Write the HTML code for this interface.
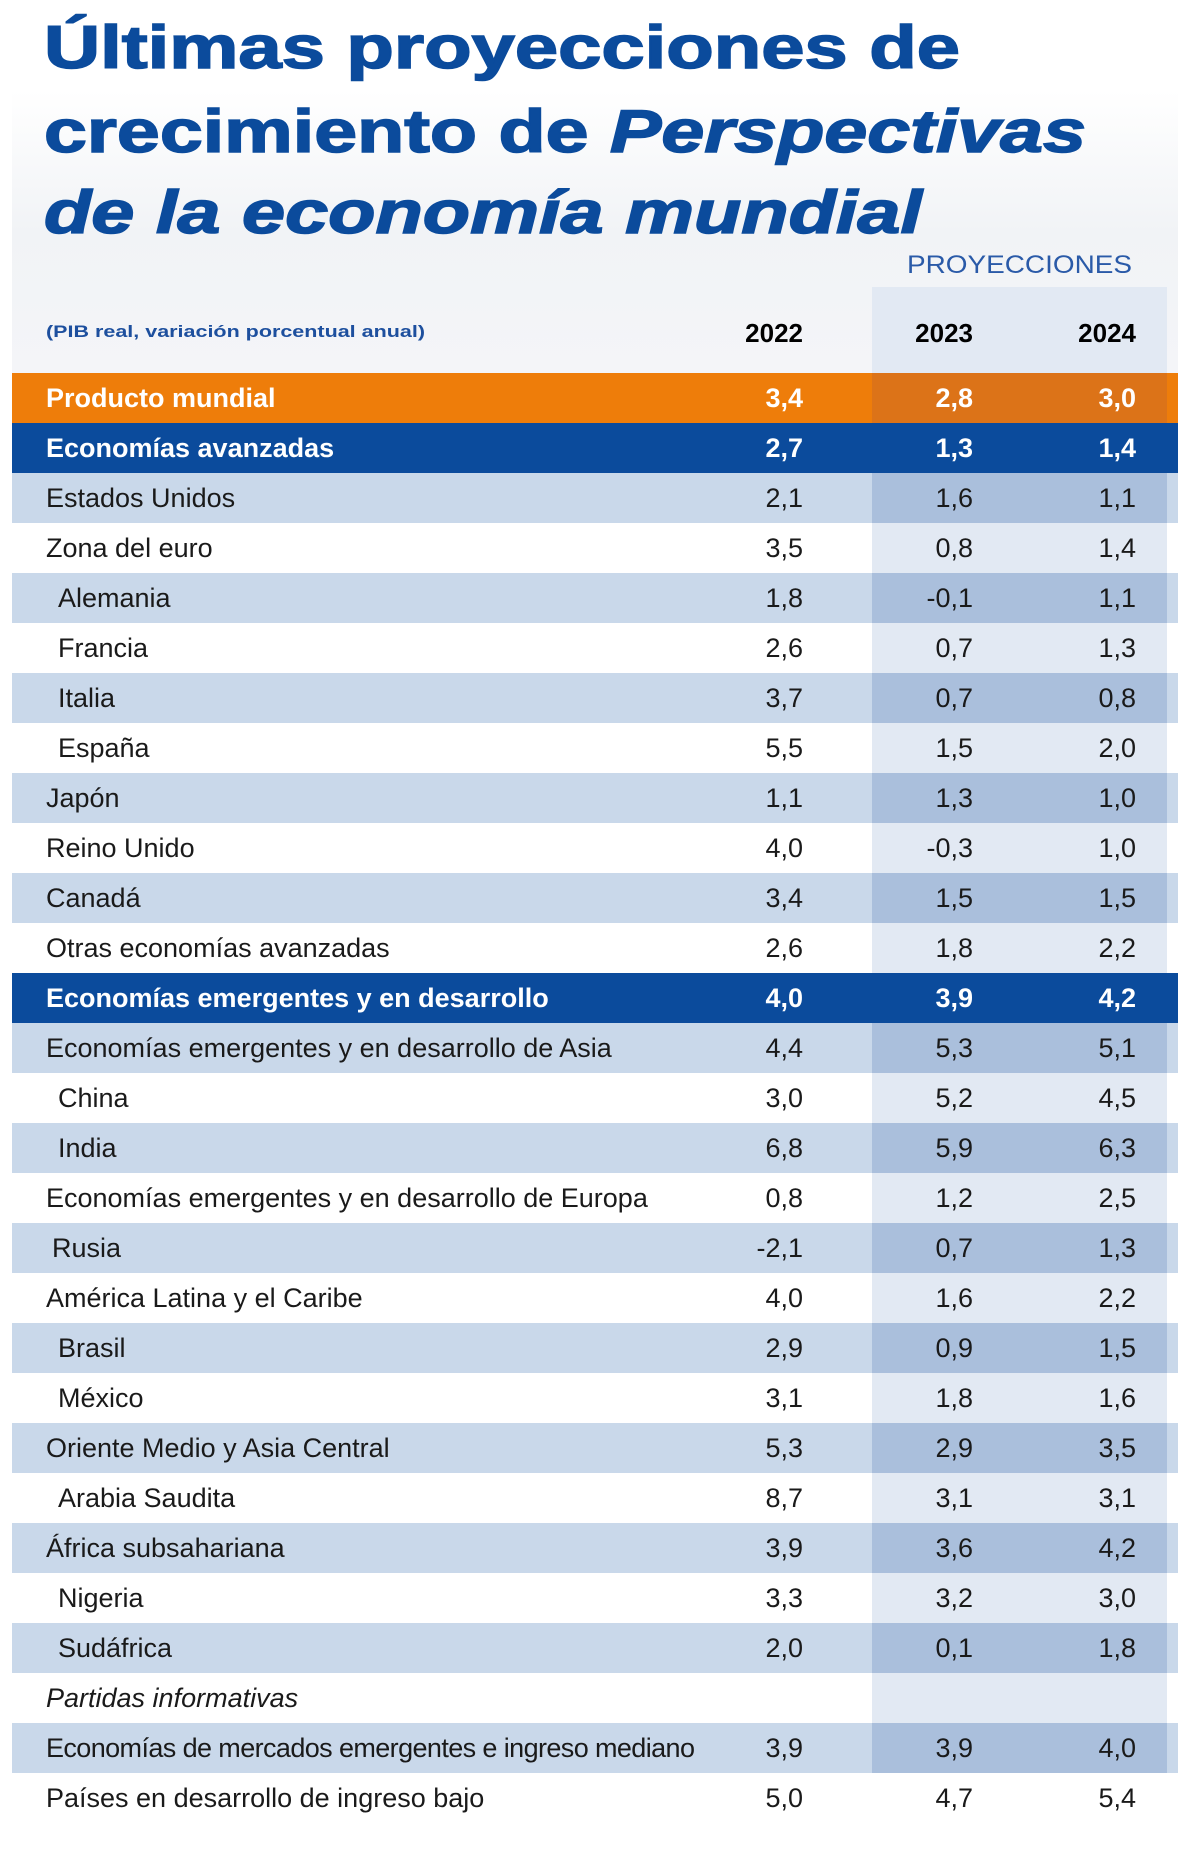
<!DOCTYPE html>
<html><head><meta charset="utf-8"><style>
body{margin:0;width:1200px;height:1854px;background:#fff;position:relative;overflow:hidden;font-family:"Liberation Sans",sans-serif}
.bg{position:absolute;left:12px;top:90px;width:1166px;height:283px;background:linear-gradient(180deg,#fff 0%,#f1f3f6 50%,#f4f5f8 100%)}
.band{position:absolute;left:872px;width:295px;top:287px;height:1486px;background:#e2e9f3}
.row{position:absolute;left:12px;width:1166px;height:50px;color:#1a1a1a;font-size:27px;line-height:50px}
.row .l{position:absolute;left:34px;white-space:nowrap}
.row .n{position:absolute;text-align:right;width:100px}
.n1{left:691px}.n2{left:861px}.n3{left:1024px}
.s{background:#c9d8ea}
.s .c{position:absolute;left:860px;width:295px;height:50px;background:#aabfdc}
.o{background:#ee7d0a;color:#fff;font-weight:bold}
.o .c{position:absolute;left:860px;width:295px;height:50px;background:#dc7318}
.b{background:#0b4b9c;color:#fff;font-weight:bold}
.ind .l{left:46px}
</style></head><body>
<div class="bg"></div>
<div class="band"></div>
<svg width="1200" height="370" style="position:absolute;left:0;top:0">
<g fill="#0b4b9c" stroke="#0b4b9c" stroke-width="1.5" font-family="Liberation Sans,sans-serif" font-weight="bold" font-size="60">
<text x="44" y="68" textLength="916" lengthAdjust="spacingAndGlyphs">Últimas proyecciones de</text>
<text x="44" y="152" textLength="1042" lengthAdjust="spacingAndGlyphs">crecimiento de <tspan font-style="italic">Perspectivas</tspan></text>
<text x="44" y="233" textLength="878" lengthAdjust="spacingAndGlyphs" font-style="italic">de la economía mundial</text>
</g>
<text x="907" y="273" fill="#2a5aa8" font-family="Liberation Sans,sans-serif" font-size="25" textLength="225" lengthAdjust="spacingAndGlyphs">PROYECCIONES</text>
<text x="46" y="337" fill="#1d4f9e" font-family="Liberation Sans,sans-serif" font-weight="bold" font-size="17" textLength="379" lengthAdjust="spacingAndGlyphs">(PIB real, variación porcentual anual)</text>
<g font-family="Liberation Sans,sans-serif" font-weight="bold" font-size="26" fill="#000" text-anchor="end">
<text x="803" y="342">2022</text><text x="973" y="342">2023</text><text x="1136" y="342">2024</text>
</g>
</svg>
<div class="row o" style="top:373px"><div class="c"></div><span class="l">Producto mundial</span><span class="n n1">3,4</span><span class="n n2">2,8</span><span class="n n3">3,0</span></div>
<div class="row b" style="top:423px"><span class="l">Economías avanzadas</span><span class="n n1">2,7</span><span class="n n2">1,3</span><span class="n n3">1,4</span></div>
<div class="row s" style="top:473px"><div class="c"></div><span class="l">Estados Unidos</span><span class="n n1">2,1</span><span class="n n2">1,6</span><span class="n n3">1,1</span></div>
<div class="row w" style="top:523px"><span class="l">Zona del euro</span><span class="n n1">3,5</span><span class="n n2">0,8</span><span class="n n3">1,4</span></div>
<div class="row s ind" style="top:573px"><div class="c"></div><span class="l">Alemania</span><span class="n n1">1,8</span><span class="n n2">-0,1</span><span class="n n3">1,1</span></div>
<div class="row w ind" style="top:623px"><span class="l">Francia</span><span class="n n1">2,6</span><span class="n n2">0,7</span><span class="n n3">1,3</span></div>
<div class="row s ind" style="top:673px"><div class="c"></div><span class="l">Italia</span><span class="n n1">3,7</span><span class="n n2">0,7</span><span class="n n3">0,8</span></div>
<div class="row w ind" style="top:723px"><span class="l">España</span><span class="n n1">5,5</span><span class="n n2">1,5</span><span class="n n3">2,0</span></div>
<div class="row s" style="top:773px"><div class="c"></div><span class="l">Japón</span><span class="n n1">1,1</span><span class="n n2">1,3</span><span class="n n3">1,0</span></div>
<div class="row w" style="top:823px"><span class="l">Reino Unido</span><span class="n n1">4,0</span><span class="n n2">-0,3</span><span class="n n3">1,0</span></div>
<div class="row s" style="top:873px"><div class="c"></div><span class="l">Canadá</span><span class="n n1">3,4</span><span class="n n2">1,5</span><span class="n n3">1,5</span></div>
<div class="row w" style="top:923px"><span class="l">Otras economías avanzadas</span><span class="n n1">2,6</span><span class="n n2">1,8</span><span class="n n3">2,2</span></div>
<div class="row b" style="top:973px"><span class="l">Economías emergentes y en desarrollo</span><span class="n n1">4,0</span><span class="n n2">3,9</span><span class="n n3">4,2</span></div>
<div class="row s" style="top:1023px"><div class="c"></div><span class="l">Economías emergentes y en desarrollo de Asia</span><span class="n n1">4,4</span><span class="n n2">5,3</span><span class="n n3">5,1</span></div>
<div class="row w ind" style="top:1073px"><span class="l">China</span><span class="n n1">3,0</span><span class="n n2">5,2</span><span class="n n3">4,5</span></div>
<div class="row s ind" style="top:1123px"><div class="c"></div><span class="l">India</span><span class="n n1">6,8</span><span class="n n2">5,9</span><span class="n n3">6,3</span></div>
<div class="row w" style="top:1173px"><span class="l">Economías emergentes y en desarrollo de Europa</span><span class="n n1">0,8</span><span class="n n2">1,2</span><span class="n n3">2,5</span></div>
<div class="row s" style="top:1223px"><div class="c"></div><span class="l" style="left:40px">Rusia</span><span class="n n1">-2,1</span><span class="n n2">0,7</span><span class="n n3">1,3</span></div>
<div class="row w" style="top:1273px"><span class="l">América Latina y el Caribe</span><span class="n n1">4,0</span><span class="n n2">1,6</span><span class="n n3">2,2</span></div>
<div class="row s ind" style="top:1323px"><div class="c"></div><span class="l">Brasil</span><span class="n n1">2,9</span><span class="n n2">0,9</span><span class="n n3">1,5</span></div>
<div class="row w ind" style="top:1373px"><span class="l">México</span><span class="n n1">3,1</span><span class="n n2">1,8</span><span class="n n3">1,6</span></div>
<div class="row s" style="top:1423px"><div class="c"></div><span class="l">Oriente Medio y Asia Central</span><span class="n n1">5,3</span><span class="n n2">2,9</span><span class="n n3">3,5</span></div>
<div class="row w ind" style="top:1473px"><span class="l">Arabia Saudita</span><span class="n n1">8,7</span><span class="n n2">3,1</span><span class="n n3">3,1</span></div>
<div class="row s" style="top:1523px"><div class="c"></div><span class="l">África subsahariana</span><span class="n n1">3,9</span><span class="n n2">3,6</span><span class="n n3">4,2</span></div>
<div class="row w ind" style="top:1573px"><span class="l">Nigeria</span><span class="n n1">3,3</span><span class="n n2">3,2</span><span class="n n3">3,0</span></div>
<div class="row s ind" style="top:1623px"><div class="c"></div><span class="l">Sudáfrica</span><span class="n n1">2,0</span><span class="n n2">0,1</span><span class="n n3">1,8</span></div>
<div class="row w" style="top:1673px"><span class="l" style="font-style:italic">Partidas informativas</span></div>
<div class="row s" style="top:1723px"><div class="c"></div><span class="l" style="letter-spacing:-0.6px">Economías de mercados emergentes e ingreso mediano</span><span class="n n1">3,9</span><span class="n n2">3,9</span><span class="n n3">4,0</span></div>
<div class="row" style="top:1773px;background:#fff"><span class="l">Países en desarrollo de ingreso bajo</span><span class="n n1">5,0</span><span class="n n2">4,7</span><span class="n n3">5,4</span></div>
</body></html>
